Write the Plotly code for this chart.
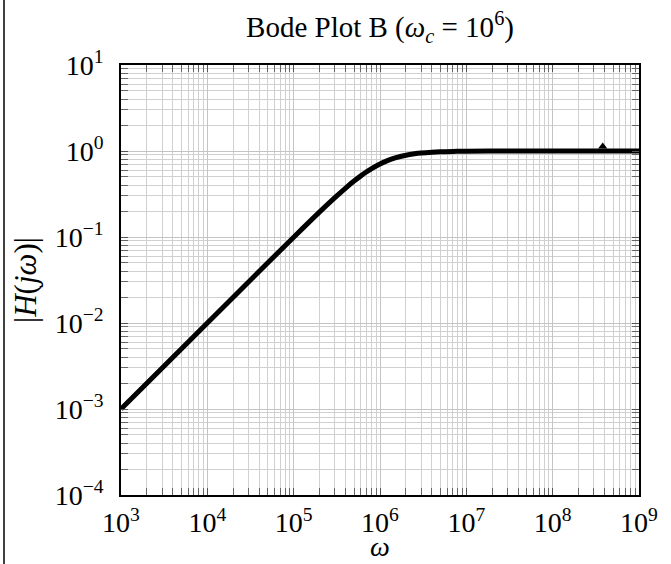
import plotly.graph_objects as go

# Data
omega = [1e3, 3e3, 1e4, 3e4, 1e5, 2e5, 3e5, 4e5, 5e5, 6e5, 7e5, 8e5, 1e6, 1.2e6, 1.5e6,
         2e6, 2.5e6, 3e6, 4e6, 5e6, 7e6, 1e7, 2e7, 5e7, 1e8, 1e9]
mag = [1.0e-3, 3.0e-3, 1.0e-2, 3.0e-2, 0.0995, 0.196, 0.287, 0.371, 0.447, 0.514, 0.573,
       0.625, 0.707, 0.768, 0.832, 0.894, 0.928, 0.949, 0.970, 0.981, 0.990, 0.995,
       0.999, 1.0, 1.0, 1.0]
marker_x = [3.8e8]
marker_y = [1.13]

x_tickvals = [1e3, 1e4, 1e5, 1e6, 1e7, 1e8, 1e9]
x_ticktext = ["10<sup>3</sup>", "10<sup>4</sup>", "10<sup>5</sup>", "10<sup>6</sup>",
              "10<sup>7</sup>", "10<sup>8</sup>", "10<sup>9</sup>"]
y_tickvals = [1e-4, 1e-3, 1e-2, 1e-1, 1e0, 1e1]
y_ticktext = ["10<sup>−4</sup>", "10<sup>−3</sup>", "10<sup>−2</sup>", "10<sup>−1</sup>",
              "10<sup>0</sup>", "10<sup>1</sup>"]

FONT = "Liberation Serif, Times New Roman, serif"

fig = go.Figure()
fig.add_trace(go.Scatter(x=omega, y=mag, mode="lines",
                         line=dict(color="black", width=5), line_shape="spline",
                         hoverinfo="skip", showlegend=False))
fig.add_trace(go.Scatter(x=marker_x, y=marker_y, mode="markers",
                         marker=dict(symbol="triangle-up", size=8, color="black"),
                         showlegend=False))

axis_common = dict(
    type="log", showline=True, linecolor="black", linewidth=1.5, mirror="allticks",
    ticks="inside", ticklen=7, tickcolor="#555", tickwidth=1,
    showgrid=True, gridcolor="#c4c4c4", gridwidth=1,
    zeroline=False,
    minor=dict(dtick="D1", showgrid=True, gridcolor="#d0d0d0", gridwidth=1,
               ticks="inside", ticklen=7, tickcolor="#666"),
    tickfont=dict(family=FONT, size=28, color="black"),
)

fig.update_xaxes(range=[3, 9], tickvals=x_tickvals, ticktext=x_ticktext,
                 ticklabelstandoff=2, **axis_common)
fig.update_yaxes(range=[-4, 1], tickvals=y_tickvals, ticktext=y_ticktext,
                 ticklabelstandoff=10,
                 title=dict(text="|<i>H</i>(<i>jω</i>)|",
                            font=dict(family=FONT, size=31, color="black"), standoff=9),
                 **axis_common)

fig.update_layout(
    width=671, height=564,
    margin=dict(l=121, r=32, t=65, b=69),
    paper_bgcolor="white", plot_bgcolor="white",
    title=dict(text="Bode Plot B (<i>ω<sub>c</sub></i> = 10<sup>6</sup>)",
               x=0.5, xref="paper", xanchor="center", y=0.952, yanchor="middle",
               font=dict(family=FONT, size=29, color="black")),
    annotations=[dict(text="<i>ω</i>", xref="paper", yref="paper", x=0.5,
                      y=-51/430, xanchor="center", yanchor="middle", showarrow=False,
                      font=dict(family=FONT, size=28, color="black"))],
    shapes=[dict(type="line", xref="paper", yref="paper",
                 x0=-117/518, x1=-117/518, y0=-69/430, y1=65/430 + 1,
                 line=dict(color="black", width=1.5))],
)

fig.write_html("out.html", config={"displayModeBar": False},
               post_script="document.body.style.margin='0';document.body.style.padding='0';"
                           "document.body.style.overflow='hidden';")
